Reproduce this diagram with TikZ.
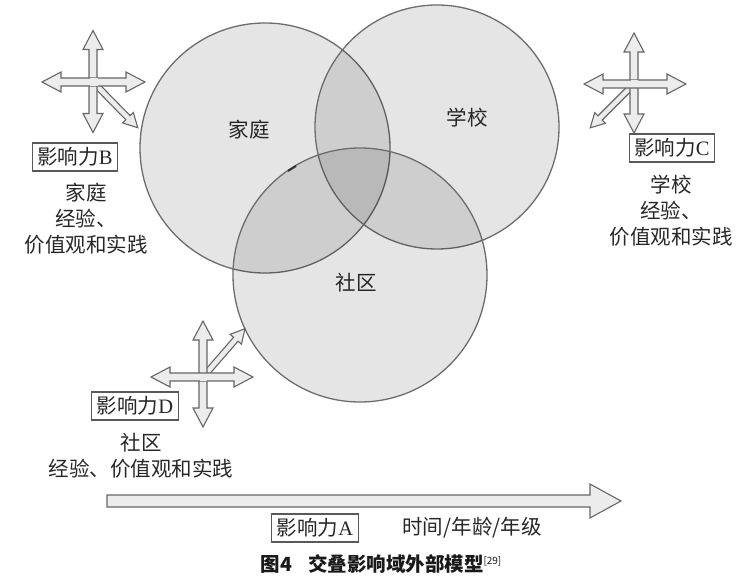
\documentclass[tikz,border=0pt]{standalone}
\usepackage{fontspec}
\setmainfont{Liberation Serif}
\newfontfamily\cjk{Noto Sans CJK SC}
% double-headed block arrow: centre x, centre y, angle, half length
\newcommand\dblarr[4]{%
 \begin{scope}[shift={(#1,#2)},rotate=#3]
 \draw[arrst] (-#4,0) -- ({-#4+19},10) -- ({-#4+19},4) -- ({#4-19},4) -- ({#4-19},10) -- (#4,0)
   -- ({#4-19},-10) -- ({#4-19},-4) -- ({-#4+19},-4) -- ({-#4+19},-10) -- cycle;
 \end{scope}}
% single block arrow from start point: x, y, angle, length
\newcommand\sglarr[4]{%
 \begin{scope}[shift={(#1,#2)},rotate=#3]
 \draw[arrst] (0,-3) -- ({#4-14},-3) -- ({#4-14},-7.5) -- (#4,0) -- ({#4-14},7.5) -- ({#4-14},3) -- (0,3) -- cycle;
 \end{scope}}
\begin{document}
\begin{tikzpicture}[x=1pt,y=-1pt,
 circ/.style={draw=gray!85!black, line width=1.3pt, fill=black, fill opacity=0.1, draw opacity=1},
 arrst/.style={draw=gray!80!black, fill=gray!15, line width=1.1pt, line join=miter},
 lbox/.style={draw=gray!70!black, line width=1.1pt, inner xsep=5pt, inner ysep=4.5pt, font=\fontsize{20.5}{24}\selectfont, text=black!85},
 txt/.style={font=\fontsize{20.5}{26}\selectfont\cjk, align=center, text=black!85}]
\useasboundingbox (0,0) rectangle (749,580);

% circles
\draw[circ] (265,148) circle[radius=125];
\draw[circ] (437,127) circle[radius=122];
\draw[circ] (360,275) circle[radius=127];
\draw[black!80, line width=2pt] (288,171) -- (296,166);

\node[txt] (lfam) at (249,130) {家庭};
\node[txt] (lsch) at (467,118) {学校};
\node[txt] (lcom) at (356,283) {社区};

% cross B
\sglarr{93}{82}{-45.6}{64}
\dblarr{93}{81.5}{90}{51}
\dblarr{93.5}{82}{0}{51.5}
\fill[gray!15] (89.5,78.5) rectangle (97.5,86);
% cross C
\sglarr{634}{84}{-135}{62}
\dblarr{634}{83}{90}{50}
\dblarr{635}{84}{0}{51}
\fill[gray!15] (630.5,80.5) rectangle (638,87.5);
% cross D
\sglarr{203}{377}{49}{64}
\dblarr{203}{374}{90}{53}
\dblarr{202}{377}{0}{51}
\fill[gray!15] (199.5,373.5) rectangle (206.5,380.5);

% labels B
\node[lbox] (bB) at (75,157) {{\cjk 影响力}B};
\node[txt] (tB) at (86,219) {家庭\\经验、\\价值观和实践};
% labels C
\node[lbox] (bC) at (672,148) {{\cjk 影响力}C};
\node[txt] (tC) at (671,211) {学校\\经验、\\价值观和实践};
% labels D
\node[lbox] (bD) at (135,406) {{\cjk 影响力}D};
\node[txt] (tD) at (141,456) {社区\\经验、价值观和实践};

% time arrow
\draw[arrst] (107,495) -- (590,495) -- (590,484) -- (621,501) -- (590,518) -- (590,507) -- (107,507) -- cycle;
\node[lbox] (bA) at (315,528) {{\cjk 影响力}A};
\node[txt] (tA) at (472,528) {时间/年龄/年级};

\node[font=\fontsize{19.5}{22}\selectfont\cjk\bfseries, text=black!90] (cap) at (381,564) {图4\hspace{16pt}交叠影响域外部模型\raisebox{7pt}{\fontsize{10}{11}\selectfont\mdseries [29]}};
\end{tikzpicture}
\end{document}
